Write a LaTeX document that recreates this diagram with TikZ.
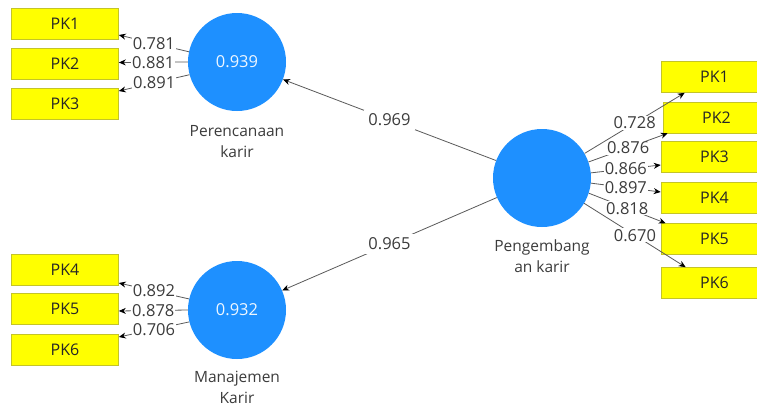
\documentclass[tikz,border=0pt]{standalone}
\usepackage{fontspec}
\setmainfont{Open Sans}
\usetikzlibrary{arrows.meta}
\definecolor{latentblue}{RGB}{30,144,255}
\definecolor{itemyellow}{RGB}{255,255,0}
\definecolor{itemedge}{RGB}{196,196,40}
\definecolor{labelgray}{RGB}{60,60,60}
\definecolor{linegray}{RGB}{90,90,90}
\tikzset{
  latent/.style={circle, fill=latentblue, draw=none, minimum size=98pt, inner sep=0pt,
    text=white!92!latentblue, font=\fontsize{16.5}{18}\selectfont},
  indicator/.style={rectangle, fill=itemyellow, draw=itemedge, line width=0.6pt,
    minimum width=107pt, minimum height=31pt, inner sep=0pt,
    text=black!85, font=\fontsize{16}{18}\selectfont},
  caption/.style={align=center, text=labelgray, font=\fontsize{15.5}{21}\selectfont},
  weight/.style={fill=white, inner sep=1pt, text=labelgray, font=\fontsize{16.5}{17}\selectfont},
  link/.style={draw=linegray, line width=0.8pt, -{Stealth[length=7pt,width=6pt,color=black]}},
}
\begin{document}
\begin{tikzpicture}[x=1pt,y=-1pt]
\useasboundingbox (0,0) rectangle (757,407);
\clip (0,0) rectangle (757,407);
\fill[white] (0,0) rectangle (757,407);

% latent variables
\node[latent] (per) at (237,62) {0.939};
\node[latent] (man) at (237,310) {0.932};
\node[latent] (peng) at (542,178) {};

\node[caption] (perlab) at (237,142) {Perencanaan\\karir};
\node[caption] (manlab) at (237,387) {Manajemen\\Karir};
\node[caption] (penglab) at (542,256) {Pengembang\\an karir};

% indicators, left
\node[indicator] (lpk1) at (65,24) {PK1};
\node[indicator] (lpk2) at (65,63.5) {PK2};
\node[indicator] (lpk3) at (65,103.5) {PK3};
\node[indicator] (lpk4) at (65,270) {PK4};
\node[indicator] (lpk5) at (65,309) {PK5};
\node[indicator] (lpk6) at (65,350) {PK6};

% indicators, right
\node[indicator] (rpk1) at (714.5,77) {PK1};
\node[indicator] (rpk2) at (716.5,117.5) {PK2};
\node[indicator] (rpk3) at (714.5,157) {PK3};
\node[indicator] (rpk4) at (714.5,198) {PK4};
\node[indicator] (rpk5) at (714.5,239) {PK5};
\node[indicator] (rpk6) at (714.5,283) {PK6};

% outer loadings, Perencanaan karir
\draw[link] (per.168) -- node[weight] {0.781} ([yshift=-11pt]lpk1.east);
\draw[link] (per.180) -- node[weight] {0.881} ([yshift=1pt]lpk2.east);
\draw[link] (per.195) -- node[weight] {0.891} ([yshift=12.5pt]lpk3.east);

% outer loadings, Manajemen Karir
\draw[link] (man.167) -- node[weight] {0.892} ([yshift=-13pt]lpk4.east);
\draw[link] (man.180) -- node[weight] {0.878} ([yshift=-2pt]lpk5.east);
\draw[link] (man.194) -- node[weight] {0.706} ([yshift=13pt]lpk6.east);

% outer loadings, Pengembangan karir
\draw[link] (peng.30) -- node[weight] {0.728} ([xshift=24pt]rpk1.south west);
\draw[link] (peng.19) -- node[weight] {0.876} ([xshift=5pt]rpk2.south west);
\draw[link] (peng.6) -- node[weight] {0.866} ([yshift=-8pt]rpk3.west);
\draw[link] (peng.-6) -- node[weight] {0.897} ([yshift=6pt]rpk4.west);
\draw[link] (peng.-18) -- node[weight] {0.818} ([xshift=5pt]rpk5.north west);
\draw[link] (peng.-31) -- node[weight] {0.670} ([xshift=25pt]rpk6.north west);

% structural paths
\draw[link] (peng) -- node[weight, inner sep=4pt] {0.969} (per);
\draw[link] (peng) -- node[weight, inner sep=4pt] {0.965} (man);
\end{tikzpicture}
\end{document}
